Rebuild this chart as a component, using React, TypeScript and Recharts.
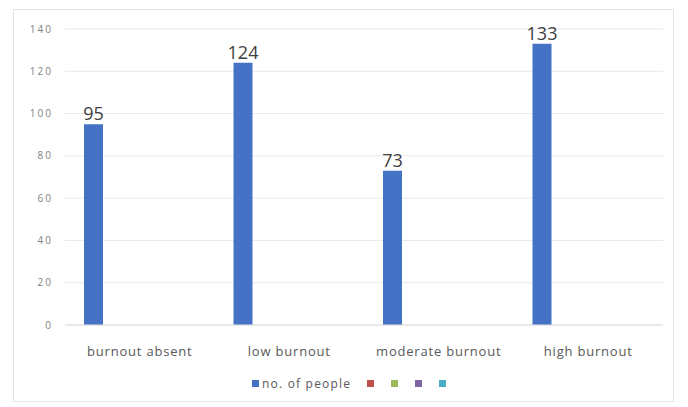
import React from "react";
import { BarChart, Bar, XAxis, YAxis, CartesianGrid, LabelList } from "recharts";

const categories = ["burnout absent", "low burnout", "moderate burnout", "high burnout"];
const people = [95, 124, 73, 133];
const yTicks = [0, 20, 40, 60, 80, 100, 120, 140];
const seriesNames = ["no. of people", "", "", "", ""];
const seriesColors = ["#4472C4", "#C0504D", "#9BBB59", "#8064A2", "#4BACC6"];

const data = categories.map((c, i) => ({
  name: c,
  s0: people[i],
  s1: null,
  s2: null,
  s3: null,
  s4: null,
}));

export default function App() {
  return (
    <div style={{ position: "absolute", left: 0, top: 0, width: 688, height: 407, background: "#ffffff" }}>
      <div style={{ position: "absolute", left: 13, top: 9, width: 661, height: 393, border: "1px solid #e4e4e4", boxSizing: "border-box" }} />
      <BarChart
        width={688}
        height={407}
        data={data}
        margin={{ top: 29, right: 25, bottom: 52, left: 0 }}
        barGap={4}
        barSize={19}
        style={{ position: "absolute", left: 0, top: 0 }}
      >
        <CartesianGrid vertical={false} stroke="#e8e8e8" />
        <XAxis
          dataKey="name"
          axisLine={{ stroke: "#e0e0e0" }}
          tickLine={false}
          tickMargin={16}
          tick={{ fontSize: 13, fill: "#595959", fontFamily: "Open Sans, sans-serif", letterSpacing: 0.8 }}
          height={30}
        />
        <YAxis
          width={65}
          domain={[0, 140]}
          ticks={yTicks}
          axisLine={false}
          tickLine={false}
          tickSize={0}
          tickMargin={12}
          tick={{ fontSize: 10, fill: "#7f7f7f", fontFamily: "Open Sans, sans-serif", letterSpacing: 2 }}
        />
        {seriesNames.map((n, i) => (
          <Bar key={i} dataKey={"s" + i} name={n} fill={seriesColors[i]} isAnimationActive={false}>
            {i === 0 ? (
              <LabelList
                dataKey={"s" + i}
                position="top"
                offset={4}
                style={{ fontSize: 18, fill: "#404040", fontFamily: "Open Sans, sans-serif" }}
              />
            ) : null}
          </Bar>
        ))}
      </BarChart>
      <div
        style={{
          position: "absolute",
          left: 252,
          top: 375,
          display: "flex",
          alignItems: "center",
          fontFamily: "Open Sans, sans-serif",
          fontSize: 12,
          letterSpacing: 1.2,
          color: "#595959",
        }}
      >
        {seriesNames.map((n, i) => (
          <div key={i} style={{ display: "flex", alignItems: "center", marginRight: n ? 16 : 14 }}>
            <span style={{ display: "inline-block", width: 7, height: 7, background: seriesColors[i], marginRight: 3 }} />
            {n ? <span>{n}</span> : null}
          </div>
        ))}
      </div>
    </div>
  );
}
